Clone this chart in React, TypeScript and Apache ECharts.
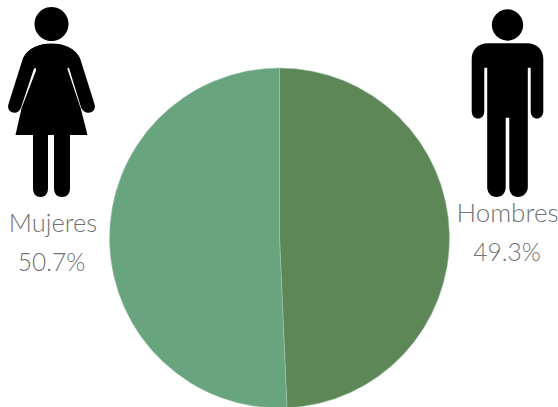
import React, { useEffect, useRef } from "react";
import * as echarts from "echarts";

const categories = ["Hombres", "Mujeres"];
const shares = [49.3, 50.7];
const sliceColors = ["#5d8757", "#68a57f"];

const womanPath =
  "M51.5 43.5 C64 43.5 75 48 80 58 L94.5 104 C96 109 93 112.7 88.5 112.7 C85 112.7 83 111 81.2 108 L69.2 68.5 C68.8 67.5 67.8 67.5 67.4 69 L80.6 108 L87.5 135 L70 135 L70 188 C70 194 67 197 62 197 C57 197 54 194 54 188 L54 135 L48 135 L48 188 C48 194 45 197 40.5 197 C36 197 33 194 33 188 L33 135 L15.5 135 L21.6 108 L36.2 70 C35.9 67.5 34.8 67.5 34 68.5 L20.9 108 C19.5 111 17.5 112.7 14.5 112.7 C10 112.7 7 109 8.5 104 L23 58 C28 48 39 43.5 51.5 43.5 Z";
const manPath =
  "M488 43.3 L527 43.3 C537 43.3 543.3 50 543.3 59 L543.3 111 C543.3 116 540 118.5 537 118.5 C533.5 118.5 530.7 116 530.7 111 L530.7 67.7 L527.8 67.7 L527.8 187 C527.8 193 523 197 518 197 C512.5 197 509.3 193 509.3 187 L509.3 117.7 L505.7 117.7 L505.7 187 C505.7 193 502 197 496.5 197 C491 197 487.2 193 487.2 187 L487.2 67.7 L484.3 67.7 L484.3 111 C484.3 116 481.5 118.5 478 118.5 C474.5 118.5 471.7 116 471.7 111 L471.7 59 C471.7 50 478 43.3 488 43.3 Z";

echarts.graphic.registerShape("womanFigure", echarts.graphic.extendPath(womanPath, {}));
echarts.graphic.registerShape("manFigure", echarts.graphic.extendPath(manPath, {}));

const textStyle = (text: string, x: number, y: number, size: number) => ({
  type: "text",
  x,
  y,
  style: {
    text,
    fill: "#727272",
    font: `300 ${size}px Lato, "Open Sans", sans-serif`,
    textAlign: "center",
    textVerticalAlign: "middle",
  },
});

export default function App() {
  const ref = useRef<HTMLDivElement>(null);

  useEffect(() => {
    const chart = echarts.init(ref.current!, undefined, { renderer: "svg" });
    chart.setOption({
      animation: false,
      backgroundColor: "#ffffff",
      series: [
        {
          type: "pie",
          center: [279.5, 238],
          radius: [0, 170],
          startAngle: 90,
          clockwise: true,
          label: { show: false },
          labelLine: { show: false },
          emphasis: { disabled: true },
          itemStyle: { borderColor: "#a9c9b0", borderWidth: 0.5 },
          data: categories.map((name, i) => ({
            name,
            value: shares[i],
            itemStyle: { color: sliceColors[i] },
          })),
        },
      ],
      graphic: {
        elements: [
          { type: "circle", shape: { cx: 51.5, cy: 24, r: 17 }, style: { fill: "#000" } },
          { type: "womanFigure", style: { fill: "#000" } },
          { type: "circle", shape: { cx: 507.5, cy: 25, r: 15.7 }, style: { fill: "#000" } },
          { type: "manFigure", style: { fill: "#000" } },
          textStyle(categories[1], 53, 222, 25.5),
          textStyle(`${shares[1]}%`, 51.5, 261, 24.5),
          textStyle(categories[0], 507.5, 212, 26),
          textStyle(`${shares[0]}%`, 507, 251, 24.5),
        ],
      },
    });
    return () => chart.dispose();
  }, []);

  return (
    <div
      ref={ref}
      style={{ position: "absolute", left: 0, top: 0, width: 558, height: 407 }}
    />
  );
}
